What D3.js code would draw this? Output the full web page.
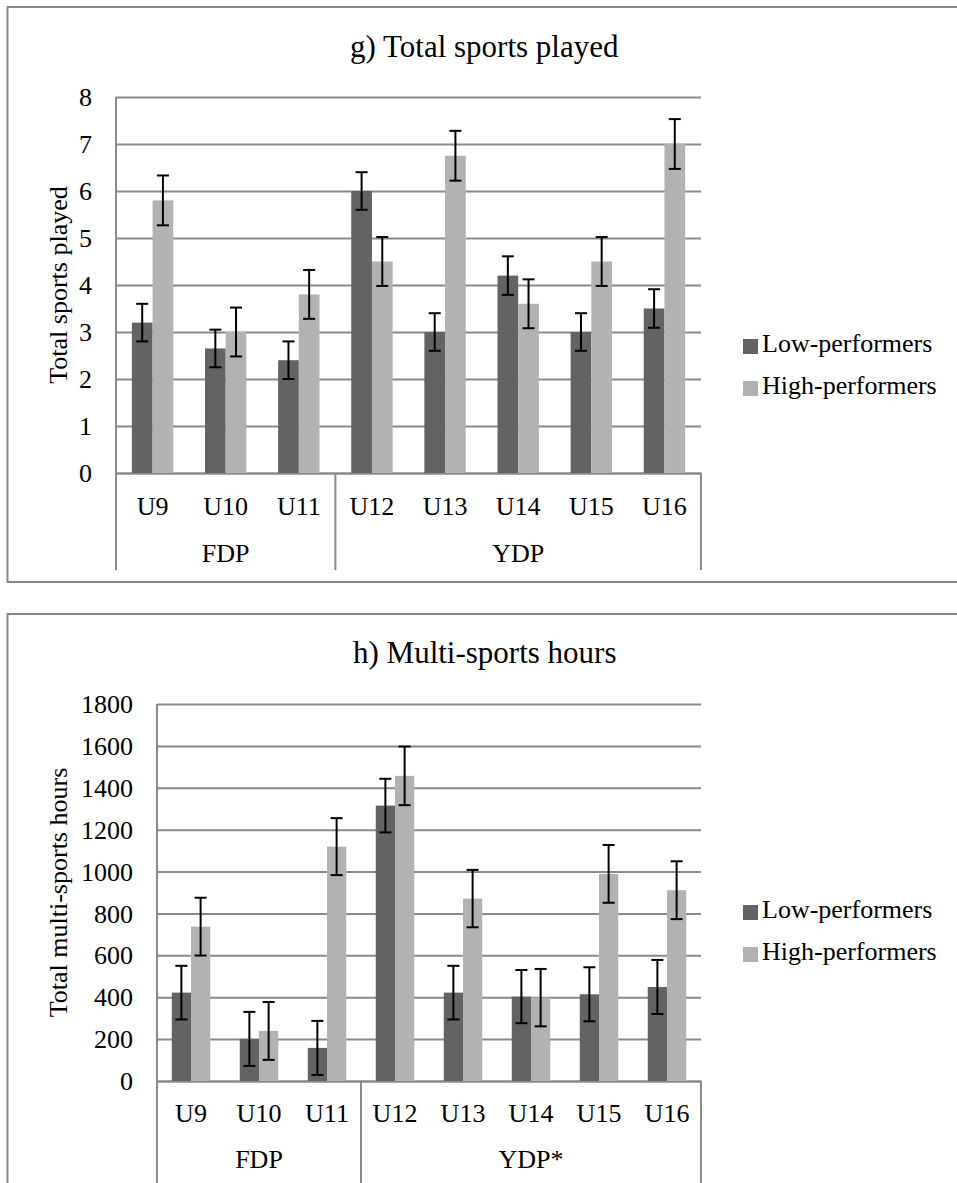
<!DOCTYPE html>
<html>
<head>
<meta charset="utf-8">
<script src="https://cdn.jsdelivr.net/npm/d3@7"></script>
<style>
  body { margin: 0; background: #fff; }
  svg text { font-family: "Liberation Serif", "Times New Roman", serif; fill: #000; }
</style>
</head>
<body>
<svg id="fig" width="957" height="1183"></svg>
<script>
// categorías y grupos
const categories = ["U9", "U10", "U11", "U12", "U13", "U14", "U15", "U16"];
const groupSizes = [3, 5];
const groupsSports = ["FDP", "YDP"];
const groupsHours = ["FDP", "YDP*"];
const seriesNames = ["Low-performers", "High-performers"];

// g) total sports played
const sportsTicks = [0, 1, 2, 3, 4, 5, 6, 7, 8];
const sportsLow = [3.2, 2.65, 2.4, 6.0, 3.0, 4.2, 3.0, 3.5];
const sportsHigh = [5.8, 3.0, 3.8, 4.5, 6.75, 3.6, 4.5, 7.0];
const sportsLowErr = [0.4, 0.4, 0.4, 0.4, 0.4, 0.41, 0.4, 0.41];
const sportsHighErr = [0.53, 0.52, 0.52, 0.52, 0.53, 0.52, 0.52, 0.53];

// h) multi-sports hours
const hoursTicks = [0, 200, 400, 600, 800, 1000, 1200, 1400, 1600, 1800];
const hoursLow = [422, 201, 158, 1315, 422, 403, 414, 449];
const hoursHigh = [737, 239, 1119, 1457, 871, 398, 989, 911];
const hoursLowErr = [128, 129, 129, 128, 128, 127, 129, 129];
const hoursHighErr = [138, 138, 136, 140, 137, 137, 138, 138];

const colors = ["#636363", "#b2b2b2"];
const lineCol = "#8a8a8a";
const fs = 26;

const svg = d3.select("#fig");

function drawChart(o) {
  const g = svg.append("g");

  // marco del gráfico (sin borde derecho visible)
  g.append("path")
    .attr("d", o.frame)
    .attr("fill", "none")
    .attr("stroke", "#888")
    .attr("stroke-width", 2);

  const x = d3.scaleBand().domain(categories).range([o.x0, o.x1]);
  const sub = d3.scaleBand().domain([0, 1]).range([0, x.bandwidth()]).paddingOuter(0.767);
  const y = d3.scaleLinear().domain([0, d3.max(o.ticks)]).range([o.yBottom, o.yTop]);

  // eje Y con líneas de cuadrícula
  const yAxis = g.append("g")
    .attr("transform", `translate(${o.x0},0)`)
    .call(d3.axisLeft(y).tickValues(o.ticks).tickFormat(d3.format("d"))
      .tickSize(-(o.x1 - o.x0)).tickPadding(24));
  yAxis.attr("font-family", null);
  yAxis.select(".domain").remove();
  yAxis.selectAll("line").attr("stroke", lineCol).attr("stroke-width", 2);
  yAxis.selectAll("text").attr("font-size", fs).attr("dy", "0.33em");

  // línea vertical izquierda + caja de categorías
  g.append("line")
    .attr("x1", o.x0).attr("x2", o.x0)
    .attr("y1", o.yTop).attr("y2", o.yBottom + o.boxH)
    .attr("stroke", lineCol).attr("stroke-width", 2);

  let acc = 0;
  const seps = groupSizes.map(n => { acc += n; return categories[acc - 1]; });
  g.selectAll(".sep").data(seps).join("line")
    .attr("x1", d => x(d) + x.bandwidth()).attr("x2", d => x(d) + x.bandwidth())
    .attr("y1", o.yBottom).attr("y2", o.yBottom + o.boxH)
    .attr("stroke", lineCol).attr("stroke-width", 2);

  // etiquetas de categorías
  const xAxis = g.append("g")
    .attr("transform", `translate(0,${o.yBottom})`)
    .call(d3.axisBottom(x).tickSize(0).tickPadding(0));
  xAxis.attr("font-family", null);
  xAxis.select(".domain").attr("stroke", lineCol).attr("stroke-width", 2);
  xAxis.selectAll("text").attr("font-size", fs).attr("dy", null).attr("y", o.catY);

  // etiquetas de grupo
  let start = 0;
  o.groups.forEach((name, i) => {
    const a = x(categories[start]);
    const b = x(categories[start + groupSizes[i] - 1]) + x.bandwidth();
    g.append("text")
      .attr("x", (a + b) / 2).attr("y", o.yBottom + o.grpY)
      .attr("text-anchor", "middle").attr("font-size", fs)
      .text(name);
    start += groupSizes[i];
  });

  // barras
  const series = [o.low, o.high];
  const errs = [o.lowErr, o.highErr];
  series.forEach((vals, s) => {
    g.append("g").selectAll("rect").data(vals).join("rect")
      .attr("x", (d, i) => x(categories[i]) + sub(s))
      .attr("width", sub.bandwidth())
      .attr("y", d => y(d))
      .attr("height", d => y(0) - y(d))
      .attr("fill", colors[s]);
  });

  // barras de error
  series.forEach((vals, s) => {
    const eg = g.append("g").attr("stroke", "#000").attr("stroke-width", 2);
    vals.forEach((v, i) => {
      const cx = x(categories[i]) + sub(s) + sub.bandwidth() / 2;
      const e = errs[s][i];
      eg.append("line").attr("x1", cx).attr("x2", cx).attr("y1", y(v + e)).attr("y2", y(v - e));
      eg.append("line").attr("x1", cx - 6).attr("x2", cx + 6).attr("y1", y(v + e)).attr("y2", y(v + e));
      eg.append("line").attr("x1", cx - 6).attr("x2", cx + 6).attr("y1", y(v - e)).attr("y2", y(v - e));
    });
  });

  // título
  g.append("text")
    .attr("x", o.titleX).attr("y", o.titleY)
    .attr("font-size", 31)
    .text(o.title);

  // título del eje Y
  g.append("text")
    .attr("transform", `translate(58,${(o.yTop + o.yBottom) / 2}) rotate(-90)`)
    .attr("text-anchor", "middle").attr("dy", "0.33em")
    .attr("font-size", fs)
    .text(o.yLabel);

  // leyenda
  const leg = g.append("g").selectAll("g").data(seriesNames).join("g")
    .attr("transform", (d, i) => `translate(743,${o.legY + i * 42})`);
  leg.append("rect").attr("x", 0).attr("y", -13).attr("width", 15).attr("height", 15)
    .attr("fill", (d, i) => colors[i]);
  leg.append("text").attr("x", 19).attr("y", 0).attr("font-size", fs).text(d => d);
}

drawChart({
  title: "g) Total sports played", titleX: 350, titleY: 57,
  yLabel: "Total sports played",
  frame: "M957,7H7.5V582H957",
  x0: 116, x1: 701, yTop: 97, yBottom: 473, boxH: 97, catY: 42, grpY: 89,
  ticks: sportsTicks, groups: groupsSports,
  low: sportsLow, high: sportsHigh, lowErr: sportsLowErr, highErr: sportsHighErr,
  legY: 352
});

drawChart({
  title: "h) Multi-sports hours", titleX: 353, titleY: 663,
  yLabel: "Total multi-sports hours",
  frame: "M957,614H7.5V1190",
  x0: 157, x1: 701, yTop: 704, yBottom: 1081, boxH: 110, catY: 41, grpY: 87,
  ticks: hoursTicks, groups: groupsHours,
  low: hoursLow, high: hoursHigh, lowErr: hoursLowErr, highErr: hoursHighErr,
  legY: 918
});
</script>
</body>
</html>
